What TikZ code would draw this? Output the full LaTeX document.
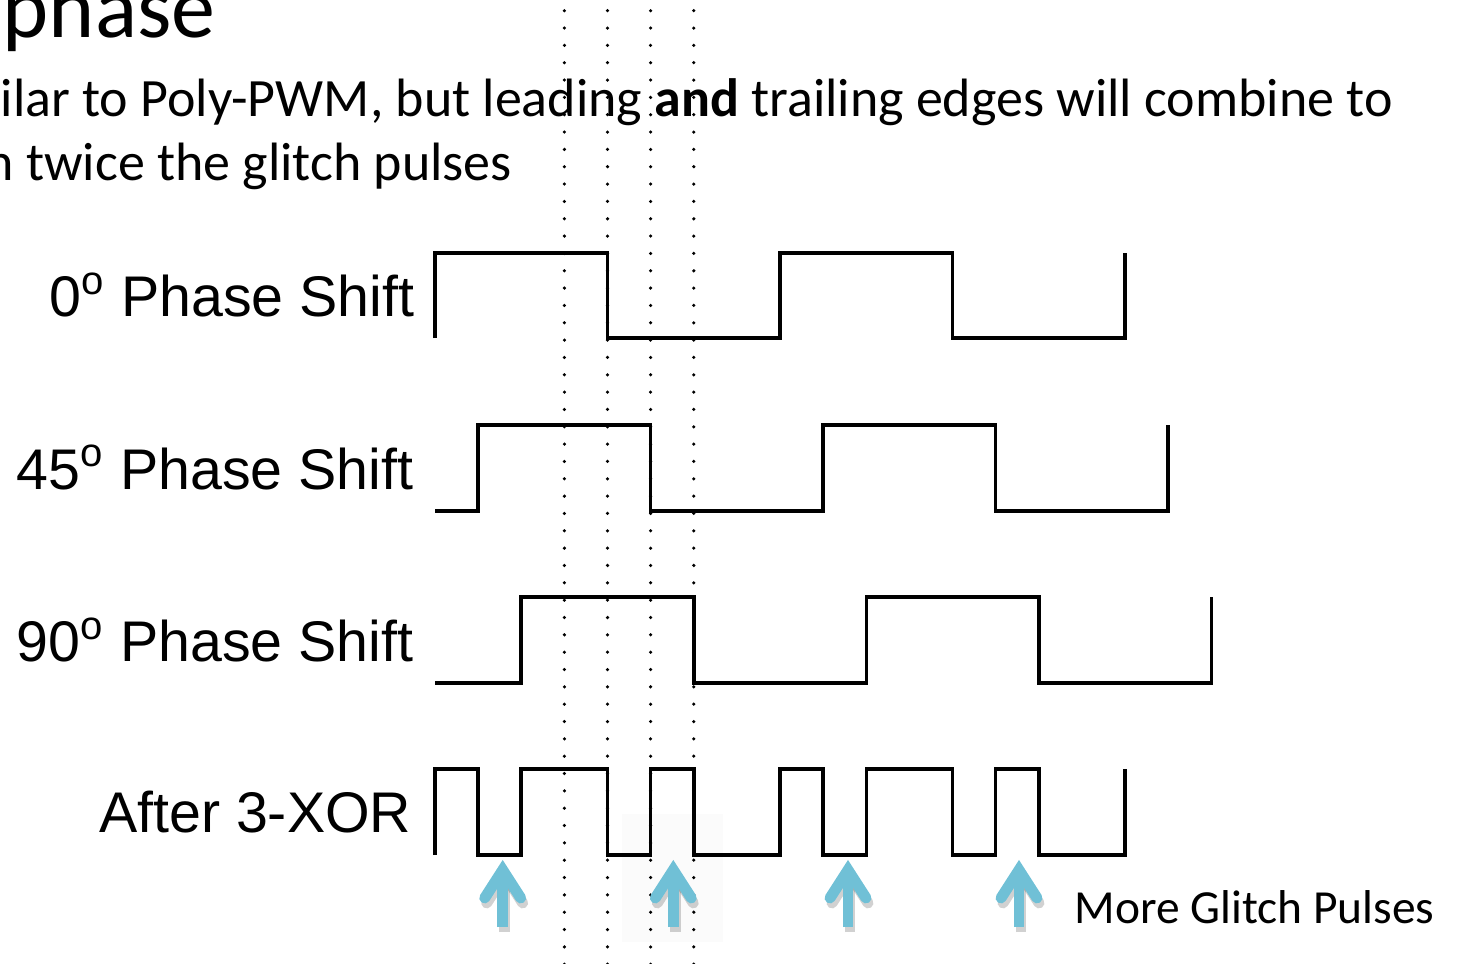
\documentclass[tikz,border=0pt]{standalone}
\usepackage{fontspec}
\setmainfont{Carlito}
\newfontfamily\arialfont{Liberation Sans}
\usepackage{tikz}
\definecolor{glitchblue}{RGB}{112,192,214}
\tikzset{
  wave/.style = {line width=1pt, line join=miter},
  dotline/.style = {line width=1pt, line cap=round, dash pattern=on 0pt off 4.93pt},
  glitch/.style = {line width=3.1pt, glitchblue, line cap=round, line join=miter},
  glitchshadow/.style = {glitch, black, opacity=0.18},
  phaselabel/.style = {anchor=base east, inner sep=0pt,
                       font=\arialfont\fontsize{16.3}{20}\selectfont},
  bodytext/.style = {anchor=base west, inner sep=0pt},
}

\begin{document}
\begin{tikzpicture}[x=0.01cm, y=-0.01cm]
\useasboundingbox (0,0) rectangle (1457,963);
\clip (0,0) rectangle (1457,963);

% text above the diagram
\node (title) [bodytext, font=\fontsize{25}{30}\selectfont] at (2,37) {phase};
\node (line1) [bodytext, font=\fontsize{15.35}{18}\selectfont] at (0,116.7)
      {ilar to Poly-PWM, but leading \textbf{and} trailing edges will combine to};
\node (line2) [bodytext, font=\fontsize{15.35}{18}\selectfont] at (-15,180)
      {n twice the glitch pulses};

\fill[black!1.5] (622,814) rectangle (723,942);

% quarter-step markers
\foreach \x in {564.4, 607.5, 650.6, 693.75}
  \draw[dotline] (\x,10.7) -- (\x,980);

% waveforms
\node (lbl0)   [phaselabel] at (415,316.7) {0\textsuperscript{o} Phase Shift};
\draw[wave] (435,338) |- (607.5,253) |- (780,338) |- (952.5,253) |- (1125,338) -- (1125,253);

\node (lbl45)  [phaselabel] at (414,489) {45\textsuperscript{o} Phase Shift};
\draw[wave] (435,511) -| (478.1,425) -| (650.6,511) -| (823.1,425) -| (995.6,511) -| (1168.1,425);

\node (lbl90)  [phaselabel] at (414,661.5) {90\textsuperscript{o} Phase Shift};
\draw[wave] (435,683) -| (521.25,597) -| (693.75,683) -| (866.25,597) -| (1038.75,683) -| (1211.25,597);

\node (lblxor) [phaselabel] at (412,832) {After 3-XOR};
\draw[wave] (435,855) -- (435,769) -| (478.1,855) -| (521.25,769) -| (607.5,855) -| (650.6,769)
            -| (693.75,855) -| (780,769) -| (823.1,855) -| (866.25,769) -| (952.5,855)
            -| (995.6,769) -| (1038.75,855) -| (1125,769);

% glitch arrows
\foreach \x in {502.7, 673.3, 848, 1019} {
  \draw[glitchshadow, line cap=butt, shift={(2,5)}] (\x,927) -- (\x,878);
  \draw[glitchshadow, shift={(2,5)}] (\x-18,898) -- (\x,870) -- (\x+18,898);
  \draw[glitch, line cap=butt] (\x,927) -- (\x,878);
  \draw[glitch] (\x-18,898) -- (\x,870) -- (\x+18,898);
}
\node (more) [bodytext, font=\fontsize{13.5}{16}\selectfont] at (1074,923.3) {More Glitch Pulses};
\end{tikzpicture}
\end{document}
